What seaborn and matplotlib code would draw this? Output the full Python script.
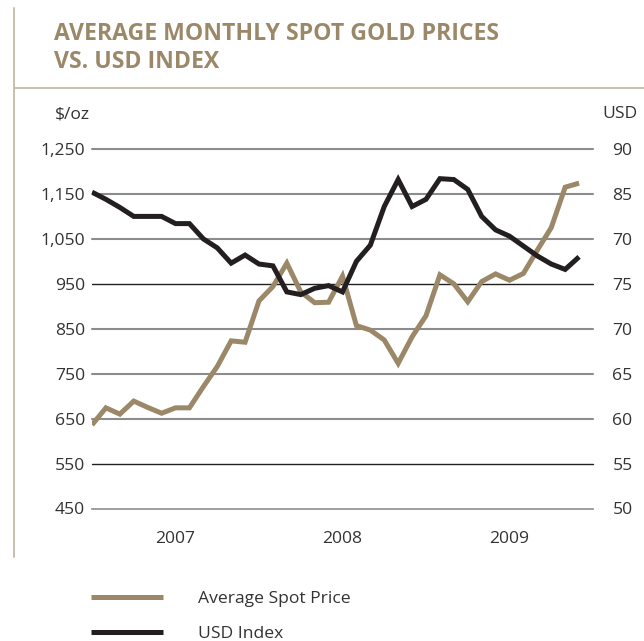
import pandas as pd
import seaborn as sns
import matplotlib.pyplot as plt
from matplotlib.lines import Line2D

# monthly data, Jan 2007 - Dec 2009
months = list(range(36))
gold_price = [636, 674, 660, 689, 675, 662, 674, 674, 721, 766, 823, 820,
              912, 944, 996, 932, 908, 909, 967, 857, 847, 825, 773, 832,
              879, 970, 950, 910, 955, 972, 958, 973, 1025, 1075, 1165, 1174]
usd_index = [85.2, 84.4, 83.5, 82.5, 82.5, 82.5, 81.7, 81.7, 80.0, 79.0, 77.3, 78.2,
             77.2, 77.0, 74.1, 73.8, 74.5, 74.8, 74.1, 77.5, 79.3, 83.6, 86.6, 83.6,
             84.4, 86.7, 86.6, 85.5, 82.5, 81.0, 80.3, 79.2, 78.1, 77.2, 76.6, 78.0]
series_names = ['Average Spot Price', 'USD Index']

left_ticks = [450, 550, 650, 750, 850, 950, 1050, 1150, 1250]
left_labels = ['450', '550', '650', '750', '850', '950', '1,050', '1,150', '1,250']
right_ticks = [50, 55, 60, 65, 70, 75, 80, 85, 90]
right_labels = ['50', '55', '60', '65', '70', '75', '70', '85', '90']
x_ticks = [0, 6, 12, 18, 24, 30, 36]
x_labels = ['', '2007', '', '2008', '', '2009', '']

GOLD = '#9b8868'
BLACK = '#231f20'
GRID = '#8c8c8c'
TAN = '#c9bfae'
TXT = '#333333'

sns.set_style('white')
plt.rcParams['font.family'] = ['Open Sans', 'DejaVu Sans']
plt.rcParams['font.size'] = 12.6

W, H = 644, 641
fig = plt.figure(figsize=(W / 100, H / 100), dpi=100)
ax = fig.add_axes([92 / W, 1 - 508.5 / H, 501 / W, (508.5 - 149) / H])

df = pd.DataFrame({'month': months, 'gold': gold_price, 'usd': usd_index})
sns.lineplot(data=df, x='month', y='gold', ax=ax, color=GOLD, lw=3.6,
             solid_joinstyle='miter', solid_capstyle='butt', legend=False)
ax2 = ax.twinx()
sns.lineplot(data=df, x='month', y='usd', ax=ax2, color=BLACK, lw=3.6,
             solid_joinstyle='miter', solid_capstyle='butt', legend=False)

# left axis
ax.set_xlim(0, 36)
ax.set_ylim(450, 1250)
ax.set_yticks(left_ticks)
ax.set_yticklabels(left_labels)
ax.yaxis.grid(True, color=GRID, lw=1.5)
for gl, t in zip(ax.get_ygridlines(), left_ticks):
    gl.set_clip_on(False)
    if t in (950, 550):
        gl.set_color(BLACK)
        gl.set_linewidth(1.0)
    if t == 450:
        gl.set_visible(False)
ax.tick_params(axis='y', length=0, pad=5, labelcolor=TXT)
ax.set_xticks(x_ticks)
ax.set_xticklabels(x_labels)
ax.tick_params(axis='x', direction='in', length=4.5, width=1, color='#555555',
               pad=16.5, labelcolor=TXT)
ax.set_xlabel('')
ax.set_ylabel('')
for s in ['top', 'left', 'right']:
    ax.spines[s].set_visible(False)
ax.spines['bottom'].set_color(GRID)
ax.spines['bottom'].set_linewidth(1.2)

# right axis
ax2.set_ylim(50, 90)
ax2.set_yticks(right_ticks)
ax2.set_yticklabels(right_labels)
ax2.tick_params(axis='y', length=0, pad=14, labelcolor=TXT)
ax2.set_ylabel('')
for s in ax2.spines.values():
    s.set_visible(False)

# frame decorations
fig.add_artist(Line2D([14 / W, 14 / W], [1 - 8 / H, 1 - 557 / H], color=TAN, lw=1.4))
fig.add_artist(Line2D([14 / W, 1], [1 - 88 / H, 1 - 88 / H], color=TAN, lw=1.4))

# title and units
fig.text(54 / W, 1 - 40 / H, 'AVERAGE MONTHLY SPOT GOLD PRICES', va='baseline',
         fontsize=16.6, weight='bold', color=GOLD)
fig.text(54 / W, 1 - 67.5 / H, 'VS. USD INDEX', va='baseline',
         fontsize=16.6, weight='bold', color=GOLD)
fig.text(54.5 / W, 1 - 114 / H, '\\$/oz', va='center', color=TXT)
fig.text(602 / W, 1 - 114 / H, 'USD', va='center', color=TXT)

# legend
handles = [ax.get_lines()[0], ax2.get_lines()[0]]
fig.legend(handles=handles, labels=series_names, loc='upper left',
           bbox_to_anchor=(91 / W, 1 - 591 / H), frameon=False,
           handlelength=4.1, handletextpad=2.0, labelspacing=1.08,
           borderpad=0, borderaxespad=0, labelcolor=TXT)

fig.savefig('out.png', dpi=100)
